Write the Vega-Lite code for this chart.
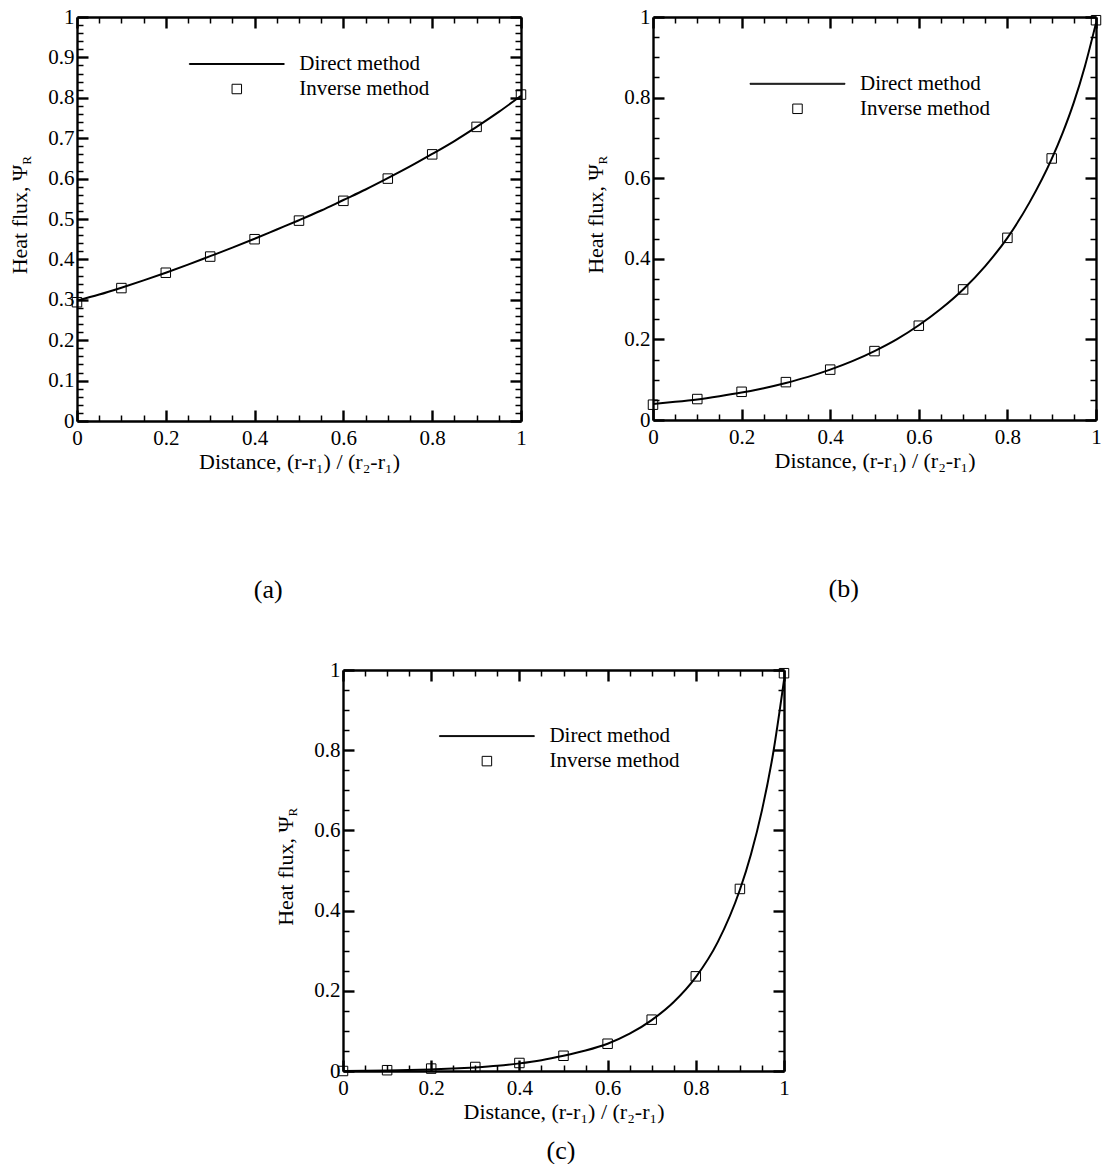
{
  "$schema": "https://vega.github.io/schema/vega-lite/v6.json",
  "background": "white",
  "padding": {"left": 8, "top": 6, "right": 0, "bottom": 0},
  "config": {
    "view": {"stroke": null},
    "font": "Liberation Serif",
    "axis": {
      "labelFont": "Liberation Serif", "titleFont": "Liberation Serif",
      "labelFontSize": 21, "titleFontSize": 22, "titleFontWeight": "normal",
      "labelColor": "black", "titleColor": "black", "domainColor": "black", "tickColor": "black",
      "grid": false, "labelFlush": false, "labelOverlap": false, "domainWidth": 2.4
    },
    "legend": {
      "orient": "none", "title": null, "padding": 0,
      "labelFont": "Liberation Serif", "labelFontSize": 21, "labelColor": "black",
      "labelOffset": 52, "rowPadding": 3, "symbolSize": 90,
      "symbolStrokeColor": "black", "symbolStrokeWidth": 1
    },
    "title": {"font": "Liberation Serif", "fontSize": 26, "fontWeight": "normal", "color": "black"}
  },
  "datasets": {
    "a_direct": [
      {"x": 0, "y": 0.298}, {"x": 0.05, "y": 0.313}, {"x": 0.1, "y": 0.330}, {"x": 0.15, "y": 0.348},
      {"x": 0.2, "y": 0.367}, {"x": 0.25, "y": 0.387}, {"x": 0.3, "y": 0.408}, {"x": 0.35, "y": 0.429},
      {"x": 0.4, "y": 0.451}, {"x": 0.45, "y": 0.474}, {"x": 0.5, "y": 0.497}, {"x": 0.55, "y": 0.521},
      {"x": 0.6, "y": 0.547}, {"x": 0.65, "y": 0.573}, {"x": 0.7, "y": 0.601}, {"x": 0.75, "y": 0.630},
      {"x": 0.8, "y": 0.661}, {"x": 0.85, "y": 0.693}, {"x": 0.9, "y": 0.728}, {"x": 0.95, "y": 0.765},
      {"x": 1, "y": 0.805}
    ],
    "a_inverse": [
      {"x": 0, "y": 0.294, "method": "Inverse method"}, {"x": 0.1, "y": 0.329, "method": "Inverse method"},
      {"x": 0.2, "y": 0.367, "method": "Inverse method"}, {"x": 0.3, "y": 0.407, "method": "Inverse method"},
      {"x": 0.4, "y": 0.450, "method": "Inverse method"}, {"x": 0.5, "y": 0.496, "method": "Inverse method"},
      {"x": 0.6, "y": 0.545, "method": "Inverse method"}, {"x": 0.7, "y": 0.600, "method": "Inverse method"},
      {"x": 0.8, "y": 0.660, "method": "Inverse method"}, {"x": 0.9, "y": 0.728, "method": "Inverse method"},
      {"x": 1, "y": 0.808, "method": "Inverse method"}
    ],
    "b_direct": [
      {"x": 0, "y": 0.040}, {"x": 0.05, "y": 0.045}, {"x": 0.1, "y": 0.051}, {"x": 0.15, "y": 0.059},
      {"x": 0.2, "y": 0.068}, {"x": 0.25, "y": 0.079}, {"x": 0.3, "y": 0.092}, {"x": 0.35, "y": 0.107},
      {"x": 0.4, "y": 0.125}, {"x": 0.45, "y": 0.146}, {"x": 0.5, "y": 0.171}, {"x": 0.55, "y": 0.200},
      {"x": 0.6, "y": 0.235}, {"x": 0.65, "y": 0.276}, {"x": 0.7, "y": 0.324}, {"x": 0.75, "y": 0.382},
      {"x": 0.8, "y": 0.452}, {"x": 0.85, "y": 0.540}, {"x": 0.9, "y": 0.648}, {"x": 0.925, "y": 0.713},
      {"x": 0.95, "y": 0.788}, {"x": 0.975, "y": 0.878}, {"x": 1, "y": 0.985}
    ],
    "b_inverse": [
      {"x": 0, "y": 0.038, "method": "Inverse method"}, {"x": 0.1, "y": 0.052, "method": "Inverse method"},
      {"x": 0.2, "y": 0.070, "method": "Inverse method"}, {"x": 0.3, "y": 0.094, "method": "Inverse method"},
      {"x": 0.4, "y": 0.125, "method": "Inverse method"}, {"x": 0.5, "y": 0.171, "method": "Inverse method"},
      {"x": 0.6, "y": 0.234, "method": "Inverse method"}, {"x": 0.7, "y": 0.324, "method": "Inverse method"},
      {"x": 0.8, "y": 0.452, "method": "Inverse method"}, {"x": 0.9, "y": 0.649, "method": "Inverse method"},
      {"x": 1, "y": 0.992, "method": "Inverse method"}
    ],
    "c_direct": [
      {"x": 0, "y": 0.000}, {"x": 0.1, "y": 0.001}, {"x": 0.2, "y": 0.004}, {"x": 0.25, "y": 0.006},
      {"x": 0.3, "y": 0.009}, {"x": 0.35, "y": 0.013}, {"x": 0.4, "y": 0.019}, {"x": 0.45, "y": 0.027},
      {"x": 0.5, "y": 0.038}, {"x": 0.55, "y": 0.051}, {"x": 0.6, "y": 0.068}, {"x": 0.65, "y": 0.093},
      {"x": 0.7, "y": 0.127}, {"x": 0.75, "y": 0.172}, {"x": 0.8, "y": 0.234}, {"x": 0.85, "y": 0.322},
      {"x": 0.9, "y": 0.452}, {"x": 0.925, "y": 0.540}, {"x": 0.95, "y": 0.650}, {"x": 0.975, "y": 0.790},
      {"x": 1, "y": 0.975}
    ],
    "c_inverse": [
      {"x": 0, "y": 0.000, "method": "Inverse method"}, {"x": 0.1, "y": 0.002, "method": "Inverse method"},
      {"x": 0.2, "y": 0.006, "method": "Inverse method"}, {"x": 0.3, "y": 0.010, "method": "Inverse method"},
      {"x": 0.4, "y": 0.020, "method": "Inverse method"}, {"x": 0.5, "y": 0.038, "method": "Inverse method"},
      {"x": 0.6, "y": 0.068, "method": "Inverse method"}, {"x": 0.7, "y": 0.128, "method": "Inverse method"},
      {"x": 0.8, "y": 0.236, "method": "Inverse method"}, {"x": 0.9, "y": 0.454, "method": "Inverse method"},
      {"x": 1, "y": 0.992, "method": "Inverse method"}
    ]
  },
  "columns": 2,
  "bounds": "flush",
  "spacing": {"row": 249, "column": 132},
  "resolve": {"scale": {"shape": "independent"}, "legend": {"shape": "independent"}},
  "concat": [
    {
      "width": 444, "height": 404,
      "title": {"text": "(a)", "orient": "bottom", "offset": 105, "frame": "bounds"},
      "resolve": {"axis": {"x": "independent", "y": "independent"}},
      "layer": [
        {
          "data": {"name": "a_direct"},
          "mark": {"type": "line", "color": "black", "strokeWidth": 2, "interpolate": "monotone"},
          "encoding": {
            "x": {"field": "x", "type": "quantitative", "scale": {"domain": [0, 1], "nice": false, "zero": false},
                  "axis": {"orient": "bottom", "values": [0, 0.2, 0.4, 0.6, 0.8, 1], "format": ".1~f", "tickSize": -11, "tickWidth": 2.4, "labelPadding": 17, "title": "Distance, (r-r₁) / (r₂-r₁)", "titlePadding": 3}},
            "y": {"field": "y", "type": "quantitative", "scale": {"domain": [0, 1], "nice": false, "zero": false},
                  "axis": {"orient": "left", "values": [0, 0.1, 0.2, 0.3, 0.4, 0.5, 0.6, 0.7, 0.8, 0.9, 1], "format": ".1~f", "tickSize": -11, "tickWidth": 2.4, "labelPadding": 14, "title": "Heat flux, Ψ", "titlePadding": 16}}
          }
        },
        {
          "data": {"name": "a_inverse"},
          "mark": {"type": "point", "filled": false, "color": "black", "strokeWidth": 1, "size": 90, "opacity": 1},
          "encoding": {
            "x": {"field": "x", "type": "quantitative",
                  "axis": {"orient": "top", "values": [0, 0.2, 0.4, 0.6, 0.8, 1], "tickSize": -11, "tickWidth": 2.4, "labels": false, "title": null}},
            "y": {"field": "y", "type": "quantitative",
                  "axis": {"orient": "right", "values": [0, 0.1, 0.2, 0.3, 0.4, 0.5, 0.6, 0.7, 0.8, 0.9, 1], "tickSize": -11, "tickWidth": 2.4, "labels": false, "title": null}},
            "shape": {"field": "method", "type": "nominal",
                      "scale": {"domain": ["Direct method", "Inverse method"], "range": ["M-10,-0.1H10V0.1H-10Z", "square"]},
                      "legend": {"legendX": 149.3, "legendY": 36.5}}
          }
        },
        {
          "data": {"name": "a_inverse"},
          "transform": [{"filter": "false"}],
          "mark": {"type": "point"},
          "encoding": {
            "x": {"field": "x", "type": "quantitative",
                  "axis": {"orient": "bottom", "values": [0.05, 0.1, 0.15, 0.25, 0.3, 0.35, 0.45, 0.5, 0.55, 0.65, 0.7, 0.75, 0.85, 0.9, 0.95], "tickSize": -6, "tickWidth": 1.5, "labels": false, "domain": false, "title": null}},
            "y": {"field": "y", "type": "quantitative",
                  "axis": {"orient": "left", "values": [0.02, 0.04, 0.06, 0.08, 0.12, 0.14, 0.16, 0.18, 0.22, 0.24, 0.26, 0.28, 0.32, 0.34, 0.36, 0.38, 0.42, 0.44, 0.46, 0.48, 0.52, 0.54, 0.56, 0.58, 0.62, 0.64, 0.66, 0.68, 0.72, 0.74, 0.76, 0.78, 0.82, 0.84, 0.86, 0.88, 0.92, 0.94, 0.96, 0.98], "tickSize": -6, "tickWidth": 1.5, "labels": false, "domain": false,
                           "title": "R", "titleFontSize": 13, "titleAngle": -90, "titleBaseline": "alphabetic", "titleAlign": "center", "titleX": -46.5, "titleY": 143}}
          }
        },
        {
          "data": {"name": "a_inverse"},
          "transform": [{"filter": "false"}],
          "mark": {"type": "point"},
          "encoding": {
            "x": {"field": "x", "type": "quantitative",
                  "axis": {"orient": "top", "values": [0.05, 0.1, 0.15, 0.25, 0.3, 0.35, 0.45, 0.5, 0.55, 0.65, 0.7, 0.75, 0.85, 0.9, 0.95], "tickSize": -6, "tickWidth": 1.5, "labels": false, "domain": false, "title": null}},
            "y": {"field": "y", "type": "quantitative",
                  "axis": {"orient": "right", "values": [0.02, 0.04, 0.06, 0.08, 0.12, 0.14, 0.16, 0.18, 0.22, 0.24, 0.26, 0.28, 0.32, 0.34, 0.36, 0.38, 0.42, 0.44, 0.46, 0.48, 0.52, 0.54, 0.56, 0.58, 0.62, 0.64, 0.66, 0.68, 0.72, 0.74, 0.76, 0.78, 0.82, 0.84, 0.86, 0.88, 0.92, 0.94, 0.96, 0.98], "tickSize": -6, "tickWidth": 1.5, "labels": false, "domain": false, "title": null}}
          }
        }
      ]
    },
    {
      "width": 443, "height": 403,
      "title": {"text": "(b)", "orient": "bottom", "offset": 105, "frame": "bounds"},
      "resolve": {"axis": {"x": "independent", "y": "independent"}},
      "layer": [
        {
          "data": {"name": "b_direct"},
          "mark": {"type": "line", "color": "black", "strokeWidth": 2, "interpolate": "monotone"},
          "encoding": {
            "x": {"field": "x", "type": "quantitative", "scale": {"domain": [0, 1], "nice": false, "zero": false},
                  "axis": {"orient": "bottom", "values": [0, 0.2, 0.4, 0.6, 0.8, 1], "format": ".1~f", "tickSize": -11, "tickWidth": 2.4, "labelPadding": 17, "title": "Distance, (r-r₁) / (r₂-r₁)", "titlePadding": 3}},
            "y": {"field": "y", "type": "quantitative", "scale": {"domain": [0, 1], "nice": false, "zero": false},
                  "axis": {"orient": "left", "values": [0, 0.2, 0.4, 0.6, 0.8, 1], "format": ".1~f", "tickSize": -11, "tickWidth": 2.4, "labelPadding": 14, "title": "Heat flux, Ψ", "titlePadding": 16}}
          }
        },
        {
          "data": {"name": "b_inverse"},
          "mark": {"type": "point", "filled": false, "color": "black", "strokeWidth": 1, "size": 90, "opacity": 1},
          "encoding": {
            "x": {"field": "x", "type": "quantitative",
                  "axis": {"orient": "top", "values": [0, 0.2, 0.4, 0.6, 0.8, 1], "tickSize": -11, "tickWidth": 2.4, "labels": false, "title": null}},
            "y": {"field": "y", "type": "quantitative",
                  "axis": {"orient": "right", "values": [0, 0.2, 0.4, 0.6, 0.8, 1], "tickSize": -11, "tickWidth": 2.4, "labels": false, "title": null}},
            "shape": {"field": "method", "type": "nominal",
                      "scale": {"domain": ["Direct method", "Inverse method"], "range": ["M-10,-0.1H10V0.1H-10Z", "square"]},
                      "legend": {"legendX": 134, "legendY": 56.3}}
          }
        },
        {
          "data": {"name": "b_inverse"},
          "transform": [{"filter": "false"}],
          "mark": {"type": "point"},
          "encoding": {
            "x": {"field": "x", "type": "quantitative",
                  "axis": {"orient": "bottom", "values": [0.05, 0.1, 0.15, 0.25, 0.3, 0.35, 0.45, 0.5, 0.55, 0.65, 0.7, 0.75, 0.85, 0.9, 0.95], "tickSize": -6, "tickWidth": 1.5, "labels": false, "domain": false, "title": null}},
            "y": {"field": "y", "type": "quantitative",
                  "axis": {"orient": "left", "values": [0.05, 0.1, 0.15, 0.25, 0.3, 0.35, 0.45, 0.5, 0.55, 0.65, 0.7, 0.75, 0.85, 0.9, 0.95], "tickSize": -6, "tickWidth": 1.5, "labels": false, "domain": false,
                           "title": "R", "titleFontSize": 13, "titleAngle": -90, "titleBaseline": "alphabetic", "titleAlign": "center", "titleX": -46.5, "titleY": 142.7}}
          }
        },
        {
          "data": {"name": "b_inverse"},
          "transform": [{"filter": "false"}],
          "mark": {"type": "point"},
          "encoding": {
            "x": {"field": "x", "type": "quantitative",
                  "axis": {"orient": "top", "values": [0.05, 0.1, 0.15, 0.25, 0.3, 0.35, 0.45, 0.5, 0.55, 0.65, 0.7, 0.75, 0.85, 0.9, 0.95], "tickSize": -6, "tickWidth": 1.5, "labels": false, "domain": false, "title": null}},
            "y": {"field": "y", "type": "quantitative",
                  "axis": {"orient": "right", "values": [0.05, 0.1, 0.15, 0.25, 0.3, 0.35, 0.45, 0.5, 0.55, 0.65, 0.7, 0.75, 0.85, 0.9, 0.95], "tickSize": -6, "tickWidth": 1.5, "labels": false, "domain": false, "title": null}}
          }
        }
      ]
    },
    {
      "width": 444, "height": 401,
      "title": {"text": "(c)", "orient": "bottom", "offset": 16, "frame": "group", "dx": 262},
      "resolve": {"axis": {"x": "independent", "y": "independent"}},
      "layer": [
        {
          "data": {"name": "c_direct"},
          "mark": {"type": "line", "color": "black", "strokeWidth": 2, "interpolate": "monotone"},
          "encoding": {
            "x": {"field": "x", "type": "quantitative", "scale": {"domain": [0, 1], "nice": false, "zero": false, "range": [266, 707]},
                  "axis": {"orient": "bottom", "values": [0, 0.2, 0.4, 0.6, 0.8, 1], "format": ".1~f", "tickSize": -11, "tickWidth": 2.4, "labelPadding": 17, "title": "Distance, (r-r₁) / (r₂-r₁)", "titlePadding": 3}},
            "y": {"field": "y", "type": "quantitative", "scale": {"domain": [0, 1], "nice": false, "zero": false},
                  "axis": {"orient": "left", "offset": -266, "values": [0, 0.2, 0.4, 0.6, 0.8, 1], "format": ".1~f", "tickSize": -11, "tickWidth": 2.4, "labelPadding": 14, "title": "Heat flux, Ψ", "titlePadding": 16}}
          }
        },
        {
          "data": {"name": "c_inverse"},
          "mark": {"type": "point", "filled": false, "color": "black", "strokeWidth": 1, "size": 90, "opacity": 1},
          "encoding": {
            "x": {"field": "x", "type": "quantitative",
                  "axis": {"orient": "top", "values": [0, 0.2, 0.4, 0.6, 0.8, 1], "tickSize": -11, "tickWidth": 2.4, "labels": false, "title": null}},
            "y": {"field": "y", "type": "quantitative",
                  "axis": {"orient": "right", "offset": 263, "values": [0, 0.2, 0.4, 0.6, 0.8, 1], "tickSize": -11, "tickWidth": 2.4, "labels": false, "title": null}},
            "shape": {"field": "method", "type": "nominal",
                      "scale": {"domain": ["Direct method", "Inverse method"], "range": ["M-10,-0.1H10V0.1H-10Z", "square"]},
                      "legend": {"legendX": 399.4, "legendY": 55.6}}
          }
        },
        {
          "data": {"name": "c_inverse"},
          "transform": [{"filter": "false"}],
          "mark": {"type": "point"},
          "encoding": {
            "x": {"field": "x", "type": "quantitative",
                  "axis": {"orient": "bottom", "values": [0.05, 0.1, 0.15, 0.25, 0.3, 0.35, 0.45, 0.5, 0.55, 0.65, 0.7, 0.75, 0.85, 0.9, 0.95], "tickSize": -6, "tickWidth": 1.5, "labels": false, "domain": false, "title": null}},
            "y": {"field": "y", "type": "quantitative",
                  "axis": {"orient": "left", "offset": -266, "values": [0.05, 0.1, 0.15, 0.25, 0.3, 0.35, 0.45, 0.5, 0.55, 0.65, 0.7, 0.75, 0.85, 0.9, 0.95], "tickSize": -6, "tickWidth": 1.5, "labels": false, "domain": false,
                           "title": "R", "titleFontSize": 13, "titleAngle": -90, "titleBaseline": "alphabetic", "titleAlign": "center", "titleX": -46.5, "titleY": 141.7}}
          }
        },
        {
          "data": {"name": "c_inverse"},
          "transform": [{"filter": "false"}],
          "mark": {"type": "point"},
          "encoding": {
            "x": {"field": "x", "type": "quantitative",
                  "axis": {"orient": "top", "values": [0.05, 0.1, 0.15, 0.25, 0.3, 0.35, 0.45, 0.5, 0.55, 0.65, 0.7, 0.75, 0.85, 0.9, 0.95], "tickSize": -6, "tickWidth": 1.5, "labels": false, "domain": false, "title": null}},
            "y": {"field": "y", "type": "quantitative",
                  "axis": {"orient": "right", "offset": 263, "values": [0.05, 0.1, 0.15, 0.25, 0.3, 0.35, 0.45, 0.5, 0.55, 0.65, 0.7, 0.75, 0.85, 0.9, 0.95], "tickSize": -6, "tickWidth": 1.5, "labels": false, "domain": false, "title": null}}
          }
        }
      ]
    }
  ]
}
